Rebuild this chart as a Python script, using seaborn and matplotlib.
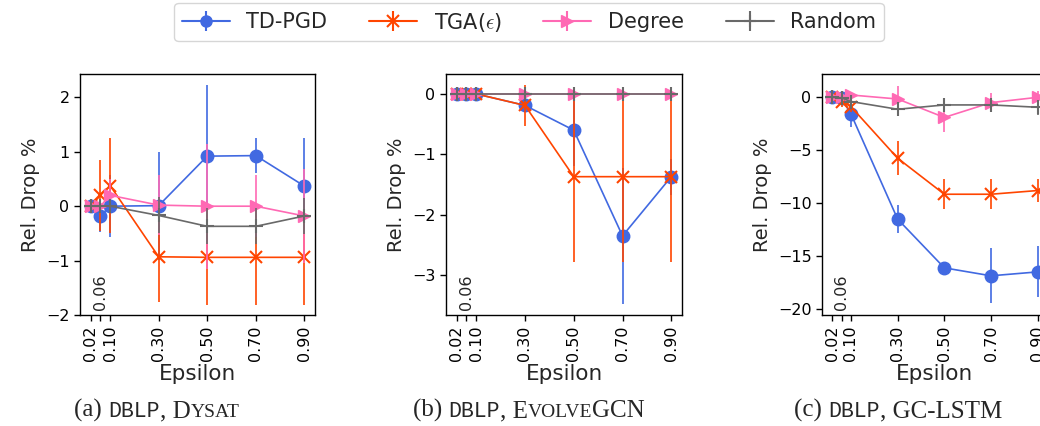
import numpy as np
import pandas as pd
import matplotlib
matplotlib.use("Agg")
import matplotlib.pyplot as plt
import matplotlib.transforms as mtransforms
from matplotlib.lines import Line2D
from matplotlib.legend_handler import HandlerTuple
import seaborn as sns

# ---------------- data ----------------
epsilons = [0.02, 0.06, 0.10, 0.30, 0.50, 0.70, 0.90]
tick_labels = ["0.02", "", "0.10", "0.30", "0.50", "0.70", "0.90"]
methods = ["TD-PGD", "TGA($\\epsilon$)", "Degree", "Random"]

# (a) DBLP, DySAT
dysat_tdpgd = [0.0, -0.18, 0.0, 0.01, 0.92, 0.93, 0.37]
dysat_tdpgd_err = [0.07, 0.30, 0.57, 0.99, 1.31, 0.32, 0.88]
dysat_tga = [0.0, 0.20, 0.38, -0.93, -0.94, -0.94, -0.94]
dysat_tga_err = [0.02, 0.65, 0.87, 0.83, 0.87, 0.87, 0.87]
dysat_degree = [0.0, 0.0, 0.20, 0.02, 0.0, 0.0, -0.18]
dysat_degree_err = [0.02, 0.05, 0.30, 0.55, 1.15, 0.57, 0.87]
dysat_random = [0.0, 0.0, 0.0, -0.17, -0.37, -0.37, -0.18]
dysat_random_err = [0.05, 0.05, 0.05, 0.33, 0.33, 0.33, 0.33]

# (b) DBLP, EvolveGCN
evolve_tdpgd = [0.0, 0.0, 0.0, -0.19, -0.60, -2.35, -1.37]
evolve_tdpgd_err = [0.0, 0.0, 0.0, 0.05, 0.60, 1.12, 0.30]
evolve_tga = [0.0, 0.0, 0.0, -0.19, -1.37, -1.37, -1.37]
evolve_tga_err = [0.0, 0.0, 0.0, 0.34, 1.42, 1.42, 1.42]
evolve_degree = [0.0, 0.0, 0.0, 0.0, 0.0, 0.0, 0.0]
evolve_degree_err = [0.0, 0.0, 0.0, 0.0, 0.0, 0.0, 0.0]
evolve_random = [0.0, 0.0, 0.0, 0.0, 0.0, 0.0, 0.0]
evolve_random_err = [0.0, 0.0, 0.0, 0.0, 0.0, 0.0, 0.0]

# (c) DBLP, GC-LSTM
gclstm_tdpgd = [0.0, -0.10, -1.57, -11.5, -16.1, -16.85, -16.48]
gclstm_tdpgd_err = [0.3, 0.3, 1.2, 1.35, 0.6, 2.6, 2.4]
gclstm_tga = [0.0, -0.40, -0.88, -5.75, -9.15, -9.15, -8.8]
gclstm_tga_err = [0.2, 0.5, 0.5, 1.6, 1.4, 1.4, 1.1]
gclstm_degree = [0.0, 0.0, 0.22, -0.16, -1.9, -0.5, 0.0]
gclstm_degree_err = [0.2, 0.2, 0.3, 1.2, 1.4, 0.9, 0.6]
gclstm_random = [0.0, -0.05, -0.40, -1.13, -0.72, -0.72, -0.94]
gclstm_random_err = [0.3, 0.3, 0.4, 0.5, 0.5, 0.6, 0.7]

panels = [
    dict(vals=[dysat_tdpgd, dysat_tga, dysat_degree, dysat_random],
         errs=[dysat_tdpgd_err, dysat_tga_err, dysat_degree_err, dysat_random_err],
         ylim=(-2.0, 2.43), yticks=[-2, -1, 0, 1, 2]),
    dict(vals=[evolve_tdpgd, evolve_tga, evolve_degree, evolve_random],
         errs=[evolve_tdpgd_err, evolve_tga_err, evolve_degree_err, evolve_random_err],
         ylim=(-3.66, 0.33), yticks=[-3, -2, -1, 0]),
    dict(vals=[gclstm_tdpgd, gclstm_tga, gclstm_degree, gclstm_random],
         errs=[gclstm_tdpgd_err, gclstm_tga_err, gclstm_degree_err, gclstm_random_err],
         ylim=(-20.55, 2.2), yticks=[-20, -15, -10, -5, 0]),
]

# ---------------- style ----------------
sns.set_theme(style="ticks")
plt.rcParams["font.family"] = ["DejaVu Sans"]
plt.rcParams["mathtext.fontset"] = "cm"

colors = ["#4169E1", "#FF4500", "#FF69B4", "#696969"]
markers = ["o", "x", ">", "+"]
msizes = [9, 9, 9, 10]
mews = [1.0, 1.5, 1.0, 1.5]

W, H = 1040, 426
fig = plt.figure(figsize=(W / 100, H / 100), dpi=100)

axes_px = [(80, 235), (446, 236), (822, 226)]
top_px, bot_px = 74, 315

for (left, width), p in zip(axes_px, panels):
    ax = fig.add_axes([left / W, (H - bot_px) / H, width / W, (bot_px - top_px) / H])
    for i in range(4):
        df = pd.DataFrame({"Epsilon": epsilons, "val": p["vals"][i]})
        sns.lineplot(data=df, x="Epsilon", y="val", ax=ax, color=colors[i],
                     marker=markers[i], markersize=msizes[i], lw=1.2,
                     markeredgecolor=colors[i], markeredgewidth=mews[i],
                     errorbar=None, legend=False, zorder=3 + i)
        ax.errorbar(epsilons, p["vals"][i], yerr=p["errs"][i], fmt="none",
                    ecolor=colors[i], elinewidth=1.2, capsize=0, zorder=2 + i)
    ax.set_xlim(-0.024, 0.944)
    ax.set_ylim(*p["ylim"])
    ax.set_yticks(p["yticks"])
    ax.set_yticklabels([("\u2212" if v < 0 else "") + str(abs(v)) for v in p["yticks"]])
    ax.set_xticks(epsilons)
    ax.set_xticklabels(tick_labels, rotation=90, fontsize=11.5)
    ax.tick_params(axis="y", labelsize=11.5, length=4, width=1, colors="black")
    ax.tick_params(axis="x", length=4, width=1, colors="black")
    ax.set_xlabel("Epsilon", fontsize=15.5, labelpad=2)
    ax.set_ylabel("Rel. Drop %", fontsize=14)
    for s in ax.spines.values():
        s.set_color("black")
        s.set_linewidth(1.0)
    ax.text(0.06, 0.02, "0.06", rotation=90, ha="center", va="bottom", fontsize=11.5,
            transform=mtransforms.blended_transform_factory(ax.transData, ax.transAxes))

# ---------------- legend ----------------
handles = []
for i in range(4):
    ln = Line2D([], [], color=colors[i], marker=markers[i], markersize=msizes[i] - 1,
                markeredgecolor=colors[i], markeredgewidth=mews[i], lw=1.5)
    bar = Line2D([], [], color=colors[i], marker="|", markersize=15,
                 markeredgewidth=1.5, linestyle="none")
    handles.append((ln, bar))
fig.legend(handles, methods, loc="center", bbox_to_anchor=(529 / W, 1 - 22 / H),
           ncol=4, fontsize=15, handlelength=2.3, handletextpad=0.8, columnspacing=2.0,
           frameon=True, edgecolor="#cccccc", fancybox=True, borderpad=0.35,
           handler_map={tuple: HandlerTuple(ndivide=1, pad=0)})

# ---------------- captions ----------------
renderer = fig.canvas.get_renderer()
ident = mtransforms.IdentityTransform()
serif = ["Liberation Serif", "DejaVu Serif"]
mono = ["Liberation Mono", "DejaVu Sans Mono"]
big, small, mono_size = 18, 14, 15.5


def rich_caption(xc, y_from_top, parts):
    texts = []
    x = 0.0
    for s, fam, size in parts:
        t = fig.text(x, H - y_from_top, s, family=fam, fontsize=size,
                     ha="left", va="baseline", transform=ident)
        w = t.get_window_extent(renderer).width
        texts.append((t, x))
        x += w
    shift = xc - x / 2
    for t, x0 in texts:
        t.set_position((x0 + shift, H - y_from_top))


rich_caption(157, 417, [("(a) ", serif, big), ("DBLP", mono, mono_size), (", D", serif, big),
                        ("YSAT", serif, small)])
rich_caption(529, 417, [("(b) ", serif, big), ("DBLP", mono, mono_size), (", E", serif, big),
                        ("VOLVE", serif, small), ("GCN", serif, big)])
rich_caption(898, 417, [("(c) ", serif, big), ("DBLP", mono, mono_size),
                        (", GC-LSTM", serif, big)])

fig.savefig("out.png", dpi=100)
